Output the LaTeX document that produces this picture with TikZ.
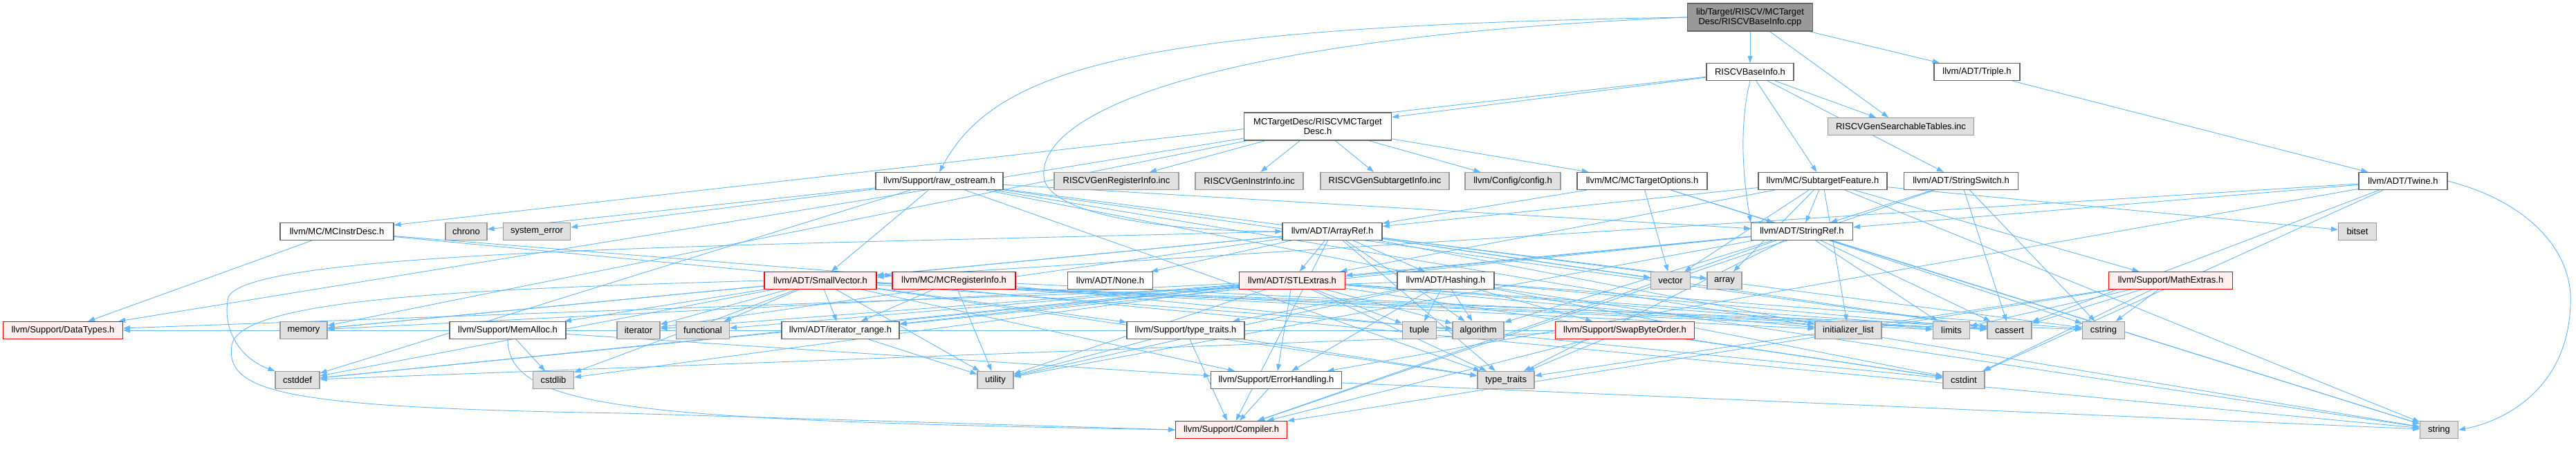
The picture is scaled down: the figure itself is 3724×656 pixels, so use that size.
\documentclass[tikz,border=0pt]{standalone}
\usepackage{fontspec}
\setmainfont{Liberation Sans}
\usetikzlibrary{arrows.meta}
\pgfdeclarelayer{bg}
\pgfsetlayers{bg,main}
\definecolor{edgec}{HTML}{63B8FF}
\definecolor{nrmborder}{HTML}{666666}
\definecolor{sysfill}{HTML}{E0E0E0}
\definecolor{sysborder}{HTML}{999999}
\definecolor{redfill}{HTML}{FFF0F0}
\definecolor{rootfill}{HTML}{999999}
\begin{document}
\begin{tikzpicture}[x=1pt,y=-1pt,
  font=\fontsize{13}{14.3}\selectfont,
  base/.style={rectangle, minimum height=25pt, inner xsep=4pt, inner ysep=2pt, line width=1.1pt, align=center},
  nrm/.style={base, draw=nrmborder, fill=white},
  sys/.style={base, draw=sysborder, fill=sysfill},
  trunc/.style={base, draw=red, fill=redfill},
  root/.style={base, draw=nrmborder, fill=rootfill, minimum height=40pt},
  two/.style={nrm, minimum height=40pt},
  edge/.style={draw=edgec, line width=0.9pt, -{Triangle[length=10pt,width=7pt]}}]
\useasboundingbox (0,0) rectangle (3724,656);
% row 0
\node[root, minimum width=181pt] (cpp) at (2530,25) {lib/Target/RISCV/MCTarget\\Desc/RISCVBaseInfo.cpp};
% row 1
\node[nrm, minimum width=126pt] (bih) at (2530,104) {RISCVBaseInfo.h};
\node[nrm, minimum width=124pt] (triple) at (2858,104) {llvm/ADT/Triple.h};
% row 2
\node[two, minimum width=213pt] (mctd) at (1905,183) {MCTargetDesc/RISCVMCTarget\\Desc.h};
\node[sys, minimum width=211pt] (gst) at (2748,183) {RISCVGenSearchableTables.inc};
% row 3
\node[nrm, minimum width=184pt] (raw) at (1358,262) {llvm/Support/raw\_ostream.h};
\node[sys, minimum width=180pt] (greg) at (1614,262) {RISCVGenRegisterInfo.inc};
\node[sys, minimum width=156pt] (ginstr) at (1806,262) {RISCVGenInstrInfo.inc};
\node[sys, minimum width=186pt] (gsub) at (2002,262) {RISCVGenSubtargetInfo.inc};
\node[sys, minimum width=138pt] (config) at (2187,262) {llvm/Config/config.h};
\node[nrm, minimum width=188pt] (mcto) at (2374,262) {llvm/MC/MCTargetOptions.h};
\node[nrm, minimum width=186pt] (subf) at (2635,262) {llvm/MC/SubtargetFeature.h};
\node[nrm, minimum width=165pt] (sswitch) at (2835,262) {llvm/ADT/StringSwitch.h};
\node[nrm, minimum width=128pt] (twine) at (3474,262) {llvm/ADT/Twine.h};
% row 4
\node[nrm, minimum width=164pt] (instrdesc) at (487,335) {llvm/MC/MCInstrDesc.h};
\node[sys, minimum width=60pt] (chrono) at (674,335) {chrono};
\node[sys, minimum width=97pt] (syserr) at (776,335) {system\_error};
\node[nrm, minimum width=144pt] (arrayref) at (1926,335) {llvm/ADT/ArrayRef.h};
\node[nrm, minimum width=147pt] (stringref) at (2605,335) {llvm/ADT/StringRef.h};
\node[sys, minimum width=55pt] (bitset) at (3408,335) {bitset};
% row 5
\node[trunc, minimum width=162pt] (smallvec) at (1186,406) {llvm/ADT/SmallVector.h};
\node[trunc, minimum width=178pt] (mcreg) at (1379,406) {llvm/MC/MCRegisterInfo.h};
\node[nrm, minimum width=123pt] (none) at (1605,406) {llvm/ADT/None.h};
\node[trunc, minimum width=153pt] (stl) at (1868,406) {llvm/ADT/STLExtras.h};
\node[nrm, minimum width=140pt] (hashing) at (2090,406) {llvm/ADT/Hashing.h};
\node[sys, minimum width=57pt] (vector) at (2415,406) {vector};
\node[sys, minimum width=50pt] (array) at (2493,406) {array};
\node[trunc, minimum width=179pt] (math) at (3138,406) {llvm/Support/MathExtras.h};
% row 6
\node[trunc, minimum width=173pt] (datatypes) at (91,478) {llvm/Support/DataTypes.h};
\node[sys, minimum width=68pt] (memory) at (439,478) {memory};
\node[nrm, minimum width=168pt] (memalloc) at (734,478) {llvm/Support/MemAlloc.h};
\node[sys, minimum width=62pt] (iterator) at (923,478) {iterator};
\node[sys, minimum width=77pt] (functional) at (1016,478) {functional};
\node[nrm, minimum width=170pt] (itrange) at (1215,478) {llvm/ADT/iterator\_range.h};
\node[nrm, minimum width=170pt] (typetraitsh) at (1714,478) {llvm/Support/type\_traits.h};
\node[sys, minimum width=49pt] (tuple) at (2052,478) {tuple};
\node[sys, minimum width=74pt] (algorithm) at (2137,478) {algorithm};
\node[trunc, minimum width=201pt] (swap) at (2349,478) {llvm/Support/SwapByteOrder.h};
\node[sys, minimum width=96pt] (initlist) at (2672,478) {initializer\_list};
\node[sys, minimum width=53pt] (limits) at (2821,478) {limits};
\node[sys, minimum width=64pt] (cassert) at (2905,478) {cassert};
\node[sys, minimum width=61pt] (cstring) at (3041,478) {cstring};
% row 7
\node[sys, minimum width=64pt] (cstddef) at (430,550) {cstddef};
\node[sys, minimum width=59pt] (cstdlib) at (800,550) {cstdlib};
\node[sys, minimum width=52pt] (utility) at (1439,550) {utility};
\node[nrm, minimum width=189pt] (errh) at (1845,550) {llvm/Support/ErrorHandling.h};
\node[sys, minimum width=82pt] (typetraits) at (2177,550) {type\_traits};
\node[sys, minimum width=60pt] (cstdint) at (2839,550) {cstdint};
% row 8
\node[trunc, minimum width=161pt] (compiler) at (1780,622) {llvm/Support/Compiler.h};
\node[sys, minimum width=55pt] (string) at (3526,622) {string};
\begin{pgfonlayer}{bg}
\coordinate (bendA) at (1510,262);
\coordinate (bendT) at (3716,440);
\coordinate (bendC) at (335,500);
\coordinate (bendD) at (330,430);
\draw[edge] (cpp.west) .. controls (1650,38) and (1440,95) .. (raw.north);
\draw[edge] (cpp.west) .. controls (1720,55) and (1490,170) .. (bendA) .. controls (1535,325) and (1760,335) .. (arrayref.west);
\draw[edge] (bih.south) .. controls (2512,190) and (2522,270) .. (stringref.north west);
\draw[edge] (twine.east) .. controls (3650,290) and (3720,360) .. (bendT) .. controls (3712,570) and (3610,612) .. (string.east);
\draw[edge] (memalloc.south) .. controls (735,590) and (900,608) .. (compiler.west);
\draw[edge] (smallvec.west) .. controls (700,418) and (345,430) .. (bendC) .. controls (325,570) and (420,590) .. (900,598) -- (compiler.west);
\draw[edge] (arrayref.west) .. controls (1100,355) and (360,360) .. (bendD) .. controls (320,480) and (350,520) .. (cstddef.north west);
\foreach \s/\t in {cpp/bih, cpp/gst, cpp/triple,
  bih/mctd, bih/gst, bih/sswitch, bih/subf, bih/instrdesc,
  triple/twine,
  mctd/greg, mctd/ginstr, mctd/gsub, mctd/config, mctd/mcto, mctd/datatypes, mctd/memory,
  mcto/arrayref, mcto/stringref, mcto/vector, mcto/string,
  subf/arrayref, subf/stl, subf/stringref, subf/math, subf/array, subf/bitset, subf/initlist, subf/string, subf/vector,
  sswitch/stringref, sswitch/compiler, sswitch/cassert, sswitch/cstring,
  twine/smallvec, twine/stringref, twine/errh, twine/cassert, twine/cstdint,
  raw/smallvec, raw/stringref, raw/cassert, raw/chrono, raw/cstddef, raw/cstdint, raw/cstring, raw/string, raw/syserr, raw/typetraits,
  arrayref/hashing, arrayref/none, arrayref/smallvec, arrayref/stl, arrayref/compiler, arrayref/algorithm, arrayref/array, arrayref/cassert, arrayref/initlist, arrayref/iterator, arrayref/memory, arrayref/typetraits, arrayref/vector,
  stringref/stl, stringref/itrange, stringref/compiler, stringref/algorithm, stringref/cassert, stringref/cstddef, stringref/cstring, stringref/limits, stringref/string, stringref/typetraits, stringref/utility,
  instrdesc/mcreg, instrdesc/datatypes, instrdesc/string,
  smallvec/itrange, smallvec/errh, smallvec/memalloc, smallvec/typetraitsh, smallvec/algorithm, smallvec/cassert, smallvec/cstddef, smallvec/cstdlib, smallvec/cstring, smallvec/functional, smallvec/initlist, smallvec/iterator, smallvec/limits, smallvec/memory, smallvec/typetraits, smallvec/utility,
  mcreg/itrange, mcreg/cassert, mcreg/cstdint, mcreg/utility,
  stl/itrange, stl/errh, stl/algorithm, stl/cassert, stl/cstddef, stl/cstdint, stl/cstdlib, stl/functional, stl/initlist, stl/iterator, stl/limits, stl/memory, stl/tuple, stl/typetraits, stl/utility,
  hashing/datatypes, hashing/errh, hashing/swap, hashing/typetraitsh, hashing/algorithm, hashing/cassert, hashing/cstring, hashing/string, hashing/tuple, hashing/utility,
  math/compiler, math/cassert, math/cstdint, math/cstring, math/limits, math/typetraits,
  swap/compiler, swap/datatypes, swap/cstddef, swap/cstdint, swap/typetraits,
  typetraitsh/compiler, typetraitsh/typetraits, typetraitsh/utility,
  itrange/utility,
  memalloc/errh, memalloc/cstdlib,
  errh/compiler, errh/string}
  \draw[edge] (\s) -- (\t);
\end{pgfonlayer}
\end{tikzpicture}
\end{document}
